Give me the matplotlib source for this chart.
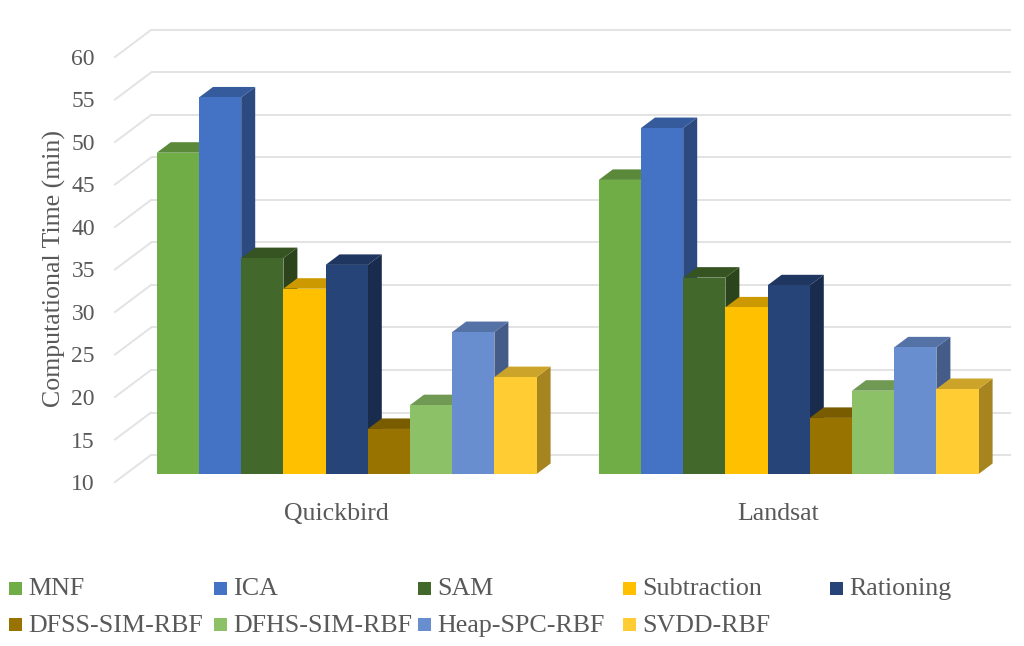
import matplotlib
matplotlib.use("Agg")
import matplotlib.pyplot as plt
from matplotlib.patches import Polygon, Rectangle
from matplotlib.colors import to_rgb

plt.rcParams['font.family'] = ['Liberation Serif', 'DejaVu Serif']

categories = ["Quickbird", "Landsat"]
series = ["MNF", "ICA", "SAM", "Subtraction", "Rationing",
          "DFSS-SIM-RBF", "DFHS-SIM-RBF", "Heap-SPC-RBF", "SVDD-RBF"]
quickbird = [47.8, 54.3, 35.4, 31.8, 34.6, 15.3, 18.1, 26.7, 21.4]
landsat = [44.6, 50.7, 33.1, 29.6, 32.2, 16.6, 19.8, 24.9, 20.0]
colors = ["#70AD47", "#4472C4", "#43682B", "#FFC000", "#264478",
          "#997300", "#8CC168", "#698ED0", "#FFCD33"]
yticks = [10, 15, 20, 25, 30, 35, 40, 45, 50, 55, 60]

W, H = 1024, 646
fig = plt.figure(figsize=(W / 100, H / 100), dpi=100)
L, R, T, B = 115, 999, 57, 482
ax = fig.add_axes([L / W, 1 - B / H, (R - L) / W, (B - T) / H])
ax.set_xlim(-0.5, 1.5)
ax.set_ylim(10, 60)
ax.patch.set_alpha(0)
for s in ax.spines.values():
    s.set_visible(False)

px_x = 1 / ((R - L) / 2)
px_y = 50 / (B - T)
TXT = "#595959"
GRID = "#E3E3E3"

# walls
for v in yticks:
    ax.plot([-0.5, -0.5 + 36 * px_x], [v, v + 27 * px_y], color=GRID, lw=1.4, clip_on=False, zorder=1)
    ax.plot([-0.5 + 36 * px_x, 1.5 + 12 * px_x], [v + 27 * px_y, v + 27 * px_y], color=GRID, lw=1.4,
            clip_on=False, zorder=1, solid_capstyle='butt')


def shade(c, f):
    return tuple(x * f for x in to_rgb(c))


bw = 42.2 * px_x
dx0, dy0 = 10.7 * px_x, 8 * px_y
dx, dy = 14 * px_x, 10.5 * px_y
z = 2
for ci, vals in enumerate([quickbird, landsat]):
    for i, v in enumerate(vals):
        x0 = ci + dx0 + (i - 4.5) * bw
        x1 = x0 + bw
        y0 = 10 + dy0
        y1 = v + dy0
        c = colors[i]
        ax.add_patch(Polygon([(x1, y0), (x1 + dx, y0 + dy), (x1 + dx, y1 + dy), (x1, y1)],
                             fc=shade(c, 0.65), ec='none', zorder=z, clip_on=False))
        ax.add_patch(Polygon([(x0, y1), (x0 + dx, y1 + dy), (x1 + dx, y1 + dy), (x1, y1)],
                             fc=shade(c, 0.8), ec='none', zorder=z, clip_on=False))
        ax.bar(x0, v - 10, width=bw, bottom=y0, align='edge', color=c, zorder=z + 0.5, clip_on=False)
        z += 1

ax.set_yticks(yticks)
ax.set_xticks(range(len(categories)))
ax.set_xticklabels(categories, fontsize=18.6)
ax.tick_params(axis='both', length=0, labelcolor=TXT)
ax.tick_params(axis='y', pad=14.4, labelsize=17)
ax.tick_params(axis='x', pad=15.2)
fig.text(54 / W, 1 - 269 / H, "Computational Time (min)", rotation=90, ha='center', va='center',
         fontsize=18.6, color=TXT)

# legend
col_x = [9, 214, 418, 623, 830]
row_y = [588, 624.5]
for i, name in enumerate(series):
    r, c = divmod(i, 5)
    fig.add_artist(Rectangle((col_x[c] / W, 1 - (row_y[r] + 6.5) / H), 12.5 / W, 13 / H,
                             transform=fig.transFigure, fc=colors[i], ec='none'))
    fig.text((col_x[c] + 19) / W, 1 - (row_y[r] + 7.3) / H, name, ha='left', va='baseline',
             fontsize=18.7, color=TXT)

fig.savefig("out.png", dpi=100)
